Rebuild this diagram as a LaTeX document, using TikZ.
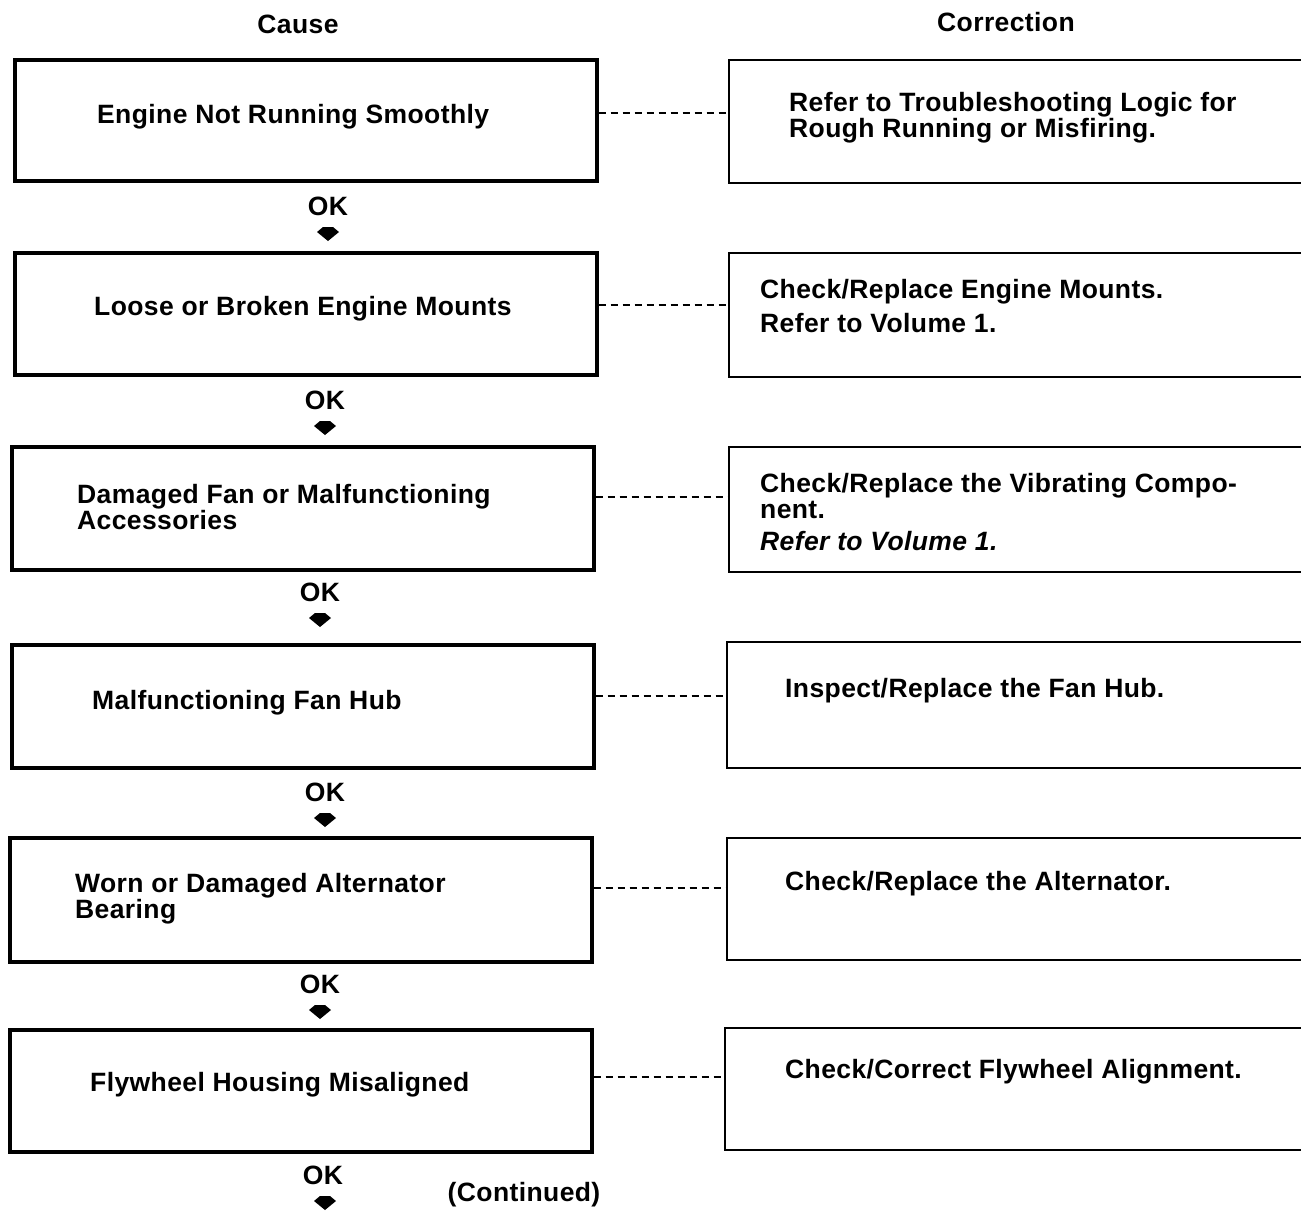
\documentclass[tikz,border=0pt]{standalone}
\usepackage{fontspec}
\setmainfont{Liberation Sans}[LetterSpace=1.5]
\begin{document}
\begin{tikzpicture}[x=1pt,y=-1pt,
  txt/.style={inner sep=0pt, align=left, anchor=west,
    font=\fontsize{26.5}{26}\selectfont\bfseries},
  head/.style={inner sep=0pt, font=\fontsize{26.5}{26}\selectfont\bfseries},
  causebox/.style={draw, line width=3.2pt, minimum width=582pt, inner sep=0pt},
  fixbox/.style={draw, line width=2.2pt, minimum width=620pt, inner sep=0pt, anchor=west},
  link/.style={dash pattern=on 7pt off 5pt, line width=1.7pt},
  okarrow/.pic={\fill (-5,-7) -- (5,-7) -- (11,-2) -- (0,7) -- (-11,-2) -- cycle;}
]
\clip (0,0) rectangle (1301,1211);
\fill[white] (0,0) rectangle (1301,1211);

% column headings
\node[head] (hcause) at (298,24) {Cause};
\node[head] (hfix) at (1006,22) {Correction};

% cause boxes
\node[causebox, minimum height=121pt] (c1) at (306,120.5) {};
\node[causebox, minimum height=122pt] (c2) at (306,314) {};
\node[causebox, minimum height=123pt] (c3) at (303,508.5) {};
\node[causebox, minimum height=123pt] (c4) at (303,706.5) {};
\node[causebox, minimum height=124pt] (c5) at (301,900) {};
\node[causebox, minimum height=122pt] (c6) at (301,1091) {};

\node[txt] (t1) at (97,117) {Engine Not Running Smoothly};
\node[txt] (t2) at (94,309) {Loose or Broken Engine Mounts};
\node[txt] (t3) at (77,507) {Damaged Fan or Malfunctioning\\Accessories};
\node[txt] (t4) at (92,703) {Malfunctioning Fan Hub};
\node[txt] (t5) at (75,899) {Worn or Damaged Alternator\\Bearing};
\node[txt] (t6) at (90,1085) {Flywheel Housing Misaligned};

% correction boxes (running off the right edge)
\node[fixbox, minimum height=123pt] (r1) at (728,121.5) {};
\node[fixbox, minimum height=124pt] (r2) at (728,315) {};
\node[fixbox, minimum height=125pt] (r3) at (728,509.5) {};
\node[fixbox, minimum height=126pt] (r4) at (726,705) {};
\node[fixbox, minimum height=122pt] (r5) at (726,899) {};
\node[fixbox, minimum height=122pt] (r6) at (724,1089) {};

\node[txt] (s1) at (789,118) {Refer to Troubleshooting Logic for\\Rough Running or Misfiring.};
\node[txt] (s2) at (760,306) {Check/Replace Engine Mounts.\\[8pt]Refer to Volume 1.};
\node[txt] (s3) at (760,512) {Check/Replace the Vibrating Compo-\\nent.\\[6pt]\itshape Refer to Volume 1.};
\node[txt] (s4) at (785,691) {Inspect/Replace the Fan Hub.};
\node[txt] (s5) at (785,884) {Check/Replace the Alternator.};
\node[txt] (s6) at (785,1072) {Check/Correct Flywheel Alignment.};

% dashed links cause -> correction
\draw[link] ([yshift=7.5pt]c1.east) -- ([yshift=7.5pt]c1.east -| r1.west);
\draw[link] ([yshift=9pt]c2.east) -- ([yshift=9pt]c2.east -| r2.west);
\draw[link] ([yshift=11.5pt]c3.east) -- ([yshift=11.5pt]c3.east -| r3.west);
\draw[link] ([yshift=10.5pt]c4.east) -- ([yshift=10.5pt]c4.east -| r4.west);
\draw[link] ([yshift=12pt]c5.east) -- ([yshift=12pt]c5.east -| r5.west);
\draw[link] ([yshift=14pt]c6.east) -- ([yshift=14pt]c6.east -| r6.west);

% OK marks with arrowheads
\node[head] (ok1) at (328,206) {OK};
\node[head] (ok2) at (325,400) {OK};
\node[head] (ok3) at (320,592) {OK};
\node[head] (ok4) at (325,792) {OK};
\node[head] (ok5) at (320,984) {OK};
\node[head] (ok6) at (323,1175) {OK};
\pic at (328,234) {okarrow};
\pic at (325,428) {okarrow};
\pic at (320,620) {okarrow};
\pic at (325,820) {okarrow};
\pic at (320,1012) {okarrow};
\pic at (325,1203) {okarrow};

\node[head] (cont) at (524,1195) {(Continued)};
\end{tikzpicture}
\end{document}
